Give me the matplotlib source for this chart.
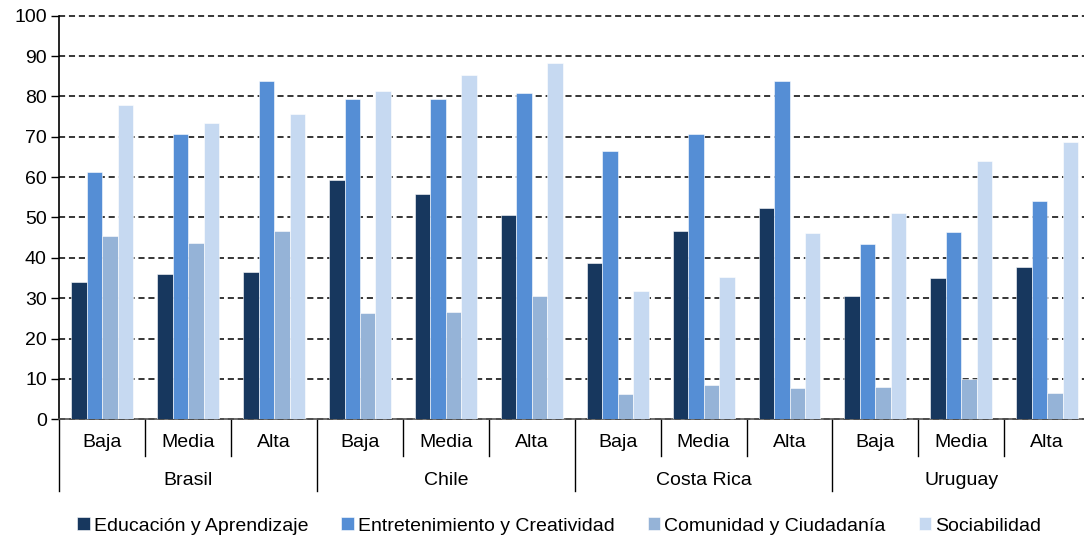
import matplotlib.pyplot as plt
import matplotlib.transforms as mtransforms
import numpy as np

plt.rcParams['font.family'] = ['Liberation Sans', 'DejaVu Sans']

countries = ['Brasil', 'Chile', 'Costa Rica', 'Uruguay']
levels = ['Baja', 'Media', 'Alta']
series = ['Educación y Aprendizaje', 'Entretenimiento y Creatividad',
          'Comunidad y Ciudadanía', 'Sociabilidad']

# values per (country, level): Brasil B/M/A, Chile B/M/A, Costa Rica B/M/A, Uruguay B/M/A
educacion = [33.9, 35.9, 36.6, 59.4, 55.7, 50.7, 38.7, 46.6, 52.3, 30.5, 35.0, 37.7]
entretenimiento = [61.3, 70.8, 83.8, 79.3, 79.4, 80.9, 66.5, 70.8, 83.7, 43.5, 46.3, 54.0]
comunidad = [45.4, 43.7, 46.6, 26.4, 26.7, 30.6, 6.3, 8.4, 7.8, 8.1, 9.9, 6.6]
sociabilidad = [77.9, 73.3, 75.7, 81.3, 85.3, 88.3, 31.7, 35.2, 46.1, 51.1, 64.1, 68.7]

colors = ['#17375E', '#558ED5', '#95B3D7', '#C6D9F1']

fig = plt.figure(figsize=(10.84, 5.39), dpi=100)
ax = fig.add_axes([0.0547, 0.2221, 0.951, 0.7488])

x = np.arange(len(countries) * len(levels))
w = 0.18
data = [educacion, entretenimiento, comunidad, sociabilidad]
for i, (vals, col, lab) in enumerate(zip(data, colors, series)):
    ax.bar(x + (i - 1.5) * w, vals, w, color=col, label=lab,
           edgecolor='white', linewidth=0.4, zorder=3)

ax.set_xlim(-0.5, len(x) - 0.5)
ax.set_ylim(0, 100)
ax.set_yticks(range(0, 101, 10))
ax.tick_params(axis='y', labelsize=14, length=6, width=1, direction='out', pad=3)
ax.set_xticks([])
ax.yaxis.grid(True, linestyle=(0, (4, 2.5)), color='black', linewidth=1.1, zorder=0)
for gl in ax.get_ygridlines():
    gl.set_clip_on(False)
for s in ['top', 'right']:
    ax.spines[s].set_visible(False)
ax.spines['left'].set_linewidth(1.2)
ax.spines['bottom'].set_linewidth(1.2)
ax.spines['bottom'].set_color('#555555')

# category labels and separators below the axis
trans = mtransforms.blended_transform_factory(ax.transData, ax.transAxes)
for k in range(len(x)):
    ax.text(x[k], -0.058, levels[k % 3], transform=trans, ha='center', va='center',
            fontsize=14)
for b in range(len(x) + 1):
    depth = -0.178 if b % 3 == 0 else -0.09
    ax.plot([b - 0.5, b - 0.5], [0, depth], transform=trans, color='black',
            linewidth=1, clip_on=False)
for c, name in enumerate(countries):
    ax.text(c * 3 + 1, -0.152, name, transform=trans, ha='center', va='center',
            fontsize=14)

fig.legend(loc='center', bbox_to_anchor=(0.516, 0.024), ncol=4, frameon=False,
           fontsize=14, handlelength=0.65, handleheight=0.65, handletextpad=0.2,
           columnspacing=1.7, borderaxespad=0)

fig.savefig('out.png', dpi=100)
